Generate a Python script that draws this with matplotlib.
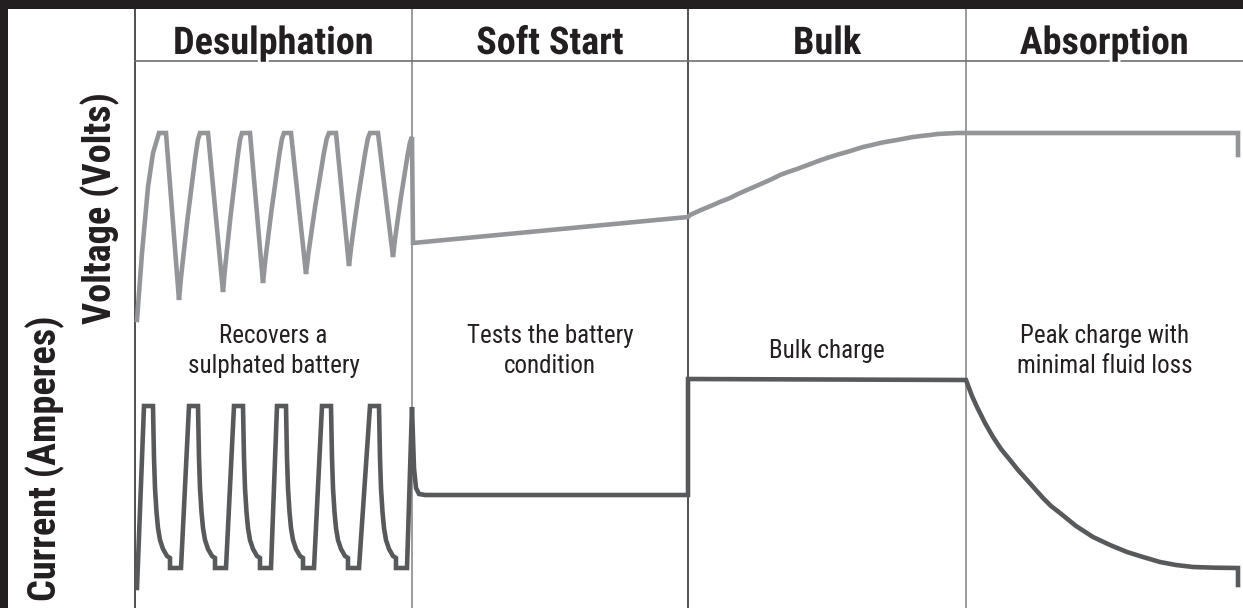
import matplotlib
matplotlib.use('Agg')
import matplotlib.pyplot as plt
import matplotlib.patheffects as pe
from matplotlib import font_manager

# fonts: narrow sans if we have it
def pick_font(names):
    for n in names:
        try:
            font_manager.findfont(n, fallback_to_default=False)
            return n
        except Exception:
            pass
    return 'DejaVu Sans'

narrow = pick_font(['Liberation Sans Narrow', 'Roboto Condensed', 'Liberation Sans'])

# stage headers / notes
stages = ['Desulphation', 'Soft Start', 'Bulk', 'Absorption']
notes = ['Recovers a\nsulphated battery', 'Tests the battery\ncondition',
         'Bulk charge', 'Peak charge with\nminimal fluid loss']
stage_edges = [0, 277, 553, 831, 1108]   # time units

# voltage: sawtooth tops (left/right of flat top), troughs
v_top = 475
v_top_left = [24, 65, 107, 149, 194, 235]
v_top_right = [31, 73, 115, 156, 201, 243]
v_trough_t = [44, 88, 128, 171, 214, 258]
v_trough_lvl = [308, 316, 325, 334, 342, 351]
# rise shape from trough to next top (fraction of time, fraction of height)
rise_dt = [0.0, 0.1, 0.23, 0.4, 0.55, 0.68, 0.77, 0.9, 1.0]
rise_dv = [0.0, 0.14, 0.29, 0.48, 0.63, 0.76, 0.85, 0.96, 1.0]
v_start_t = [2, 7, 13, 18, 24]
v_start_lvl = [288, 355, 421, 455, 475]
v_soft_t = [277, 278, 553]
v_soft_lvl = [471, 365, 391]
v_bulk_t = [555, 566, 578, 586, 595, 603, 612, 620, 628, 637, 645, 653, 662,
            670, 678, 686, 695, 703, 712, 720, 728, 737, 745, 753, 762, 770,
            778, 786, 795, 803, 812, 822, 832]
v_bulk_lvl = [393, 398, 403, 406.5, 410, 414, 418, 421.5, 425, 429, 433, 436,
              439, 442, 445, 448, 451, 453.5, 456, 458.5, 461, 463, 465, 466.5,
              468, 469.5, 471, 472, 473, 474, 474.5, 475, 475]
v_end_t = [1103, 1103]
v_end_lvl = [475, 453]

# current: pulse tops (left edge) and one pulse shape
i_top = 202
i_pulse_left = [9, 54, 99, 142, 187, 235]
pulse_dt = [0, 9, 9.5, 10, 11, 12.5, 14, 16, 19, 23, 26, 26, 37]
pulse_lvl = [202, 202, 175, 150, 120, 96, 80, 68, 59, 52, 50, 40, 40]
i_soft_t = [277, 277, 278, 279, 281, 284, 290, 553, 553]
i_soft_lvl = [20, 201, 170, 140, 120, 114, 113, 113, 229]
i_abs_t = [831, 834, 837, 842, 850, 858, 866, 875, 883, 892, 900, 908, 916,
           925, 941, 958, 975, 992, 1008, 1025, 1041, 1058, 1080, 1103, 1103]
i_abs_lvl = [228, 220, 212, 201, 185, 171, 159, 148, 138, 128, 119, 110,
             102, 95, 82, 71, 63, 56, 51, 46, 43, 41, 40.3, 40, 23]

# build voltage path
vt = list(v_start_t)
vl = list(v_start_lvl)
for k in range(len(v_trough_t)):
    vt += [v_top_right[k], v_trough_t[k]]
    vl += [v_top, v_trough_lvl[k]]
    t0, l0 = v_trough_t[k], v_trough_lvl[k]
    if k + 1 < len(v_top_left):
        t1, l1 = v_top_left[k + 1], v_top
    else:
        t1, l1 = v_soft_t[0], v_soft_lvl[0]
    for a, b in zip(rise_dt[1:], rise_dv[1:]):
        vt.append(t0 + a * (t1 - t0))
        vl.append(l0 + b * (l1 - l0))
vt += v_soft_t[1:] + v_bulk_t + v_end_t
vl += v_soft_lvl[1:] + v_bulk_lvl + v_end_lvl

# build current path
it = [2]
il = [20]
for tl in i_pulse_left:
    it += [tl + d for d in pulse_dt]
    il += list(pulse_lvl)
it += i_soft_t[1:] + i_abs_t
il += i_soft_lvl[1:] + i_abs_lvl

W, H = 1243, 608
fig = plt.figure(figsize=(W / 100, H / 100), dpi=100)
fig.patch.set_facecolor('white')

# frame / layout axes in pixels
ax0 = fig.add_axes([0, 0, 1, 1])
ax0.set_xlim(0, W)
ax0.set_ylim(H, 0)
ax0.axis('off')
dark = '#231f20'
ax0.add_patch(plt.Rectangle((0, 0), W, 8.5, color=dark, lw=0))
ax0.add_patch(plt.Rectangle((0, 0), 8, H, color=dark, lw=0))

px0, py0 = 135, 61
sx = (W - px0) / stage_edges[-1]
div_colors = ['#231f20', '#808080', '#231f20', '#808080']
for k, e in enumerate(stage_edges[:-1]):
    x = px0 + e * sx
    ax0.plot([x, x], [8.5, H], color=div_colors[k], lw=1.1, solid_capstyle='butt')
ax0.plot([px0, W], [py0, py0], color='#6d6e71', lw=1.2)

for k, name in enumerate(stages):
    xc = px0 + (stage_edges[k] + stage_edges[k + 1]) / 2 * sx
    ax0.text(xc, 54, name, ha='center', va='baseline', fontsize=27.5,
             fontweight='bold', family=narrow, color=dark,
             path_effects=[pe.withStroke(linewidth=4, foreground='white')])
    ax0.text(xc, 351, notes[k], ha='center', va='center', fontsize=18,
             family=narrow, color=dark, linespacing=1.3)

ax0.text(100, 208, 'Voltage (Volts)', rotation=90, ha='center', va='center',
         fontsize=27.5, fontweight='bold', family=narrow, color=dark)
ax0.text(45, 458, 'Current (Amperes)', rotation=90, ha='center', va='center',
         fontsize=27.5, fontweight='bold', family=narrow, color=dark)

# data axes over the plot area
ax = fig.add_axes([px0 / W, 0, 1 - px0 / W, (H - py0) / H])
ax.set_xlim(0, stage_edges[-1])
ax.set_ylim(0, H - py0)
ax.axis('off')
ax.plot(vt, vl, color='#939598', lw=3.3, solid_joinstyle='miter', clip_on=False)
ax.plot(it, il, color='#58595b', lw=3.3, solid_joinstyle='miter', clip_on=False)

fig.savefig('out.png', dpi=100)
